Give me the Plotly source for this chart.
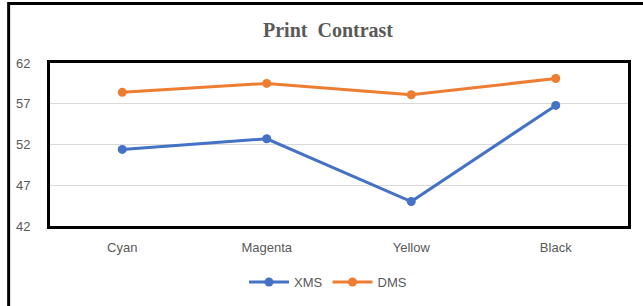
import plotly.graph_objects as go

categories = ["Cyan", "Magenta", "Yellow", "Black"]
xms = [51.4, 52.7, 45.0, 56.8]
dms = [58.4, 59.5, 58.1, 60.1]
y_ticks = [42, 47, 52, 57, 62]

W, H = 643, 306
L, R, T, B = 50, 13, 63, 80
pw, ph = W - L - R, H - T - B

def px_x(p):
    return (p - L) / pw

def px_y(p):
    return 1 - (p - T) / ph

fig = go.Figure()
fig.add_trace(go.Scatter(x=categories, y=xms, name="XMS", mode="lines+markers",
                         line=dict(color="#4472C4", width=3),
                         marker=dict(color="#4472C4", size=9)))
fig.add_trace(go.Scatter(x=categories, y=dms, name="DMS", mode="lines+markers",
                         line=dict(color="#ED7D31", width=3),
                         marker=dict(color="#ED7D31", size=9)))

fig.update_layout(
    width=W, height=H,
    margin=dict(l=L, r=R, t=T, b=B),
    paper_bgcolor="white", plot_bgcolor="white",
    title=dict(text="<b>Print  Contrast</b>", x=328 / W, xanchor="center",
               y=1 - 30 / H, yanchor="middle",
               font=dict(family="Liberation Serif", size=20, color="#595959")),
    font=dict(family="Liberation Sans", size=13, color="#595959"),
    showlegend=True,
    legend=dict(orientation="h", x=328 / W, xref="container", xanchor="center",
                y=1 - 282 / H, yref="container", yanchor="middle",
                font=dict(size=13, color="#595959"), itemwidth=40),
    xaxis=dict(type="category", range=[-0.5, 3.5], showgrid=False,
               showline=True, linecolor="black", linewidth=3, mirror=True,
               ticks="", ticklabelstandoff=7,
               tickfont=dict(size=13, color="#595959")),
    yaxis=dict(range=[42, 62], tickvals=y_ticks, showgrid=True,
               gridcolor="#D9D9D9", gridwidth=1,
               showline=True, linecolor="black", linewidth=3, mirror=True,
               ticks="", ticklabelstandoff=14, zeroline=False,
               tickfont=dict(size=13, color="#595959")),
)

fig.add_shape(type="rect", xref="paper", yref="paper",
              x0=px_x(8.5), x1=px_x(W + 10), y0=px_y(H + 10), y1=px_y(3.5),
              line=dict(color="black", width=3), fillcolor="rgba(0,0,0,0)",
              layer="above")

fig.write_html("out.html", config={"displayModeBar": False},
               post_script="document.body.style.margin='0';document.body.style.overflow='hidden';")
